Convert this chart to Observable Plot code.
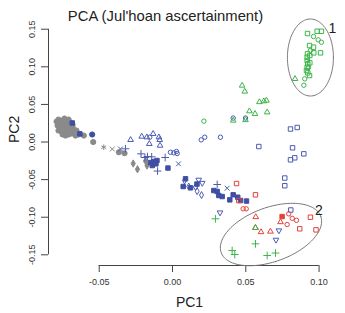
<!DOCTYPE html>
<html>
<head>
<meta charset="utf-8">
<script src="https://cdn.jsdelivr.net/npm/d3@7"></script>
<script src="https://cdn.jsdelivr.net/npm/@observablehq/plot@0.6"></script>
<style>
  html, body { margin: 0; padding: 0; background: #fff; }
  #chart svg { display: block; font-family: "Liberation Sans", Arial, sans-serif; }
</style>
</head>
<body>
<div id="chart"></div>
<script>
// PCA scores [PC1, PC2], one array per population / marker group
const greyDots = [[-0.0791,0.0273],[-0.0778,0.0299],[-0.0764,0.0246],[-0.0750,0.0286],[-0.0737,0.0313],[-0.0723,0.0273],[-0.0709,0.0299],[-0.0696,0.0259],[-0.0784,0.0219],[-0.0764,0.0193],[-0.0744,0.0219],[-0.0723,0.0206],[-0.0703,0.0193],[-0.0682,0.0206],[-0.0778,0.0153],[-0.0757,0.0140],[-0.0737,0.0166],[-0.0716,0.0140],[-0.0696,0.0153],[-0.0675,0.0166],[-0.0750,0.0100],[-0.0730,0.0086],[-0.0709,0.0100],[-0.0689,0.0113],[-0.0668,0.0126],[-0.0655,0.0153],[-0.0662,0.0086],[-0.0641,0.0100],[-0.0723,0.0246],[-0.0682,0.0233],[-0.0605,0.0086],[-0.0541,0.0000],[-0.0366,-0.0136],[-0.0327,-0.0149]];
const greyStars = [[-0.0469,-0.0069]];
const greyTimes = [[-0.0411,-0.0093]];
const greyDiamonds = [[-0.0268,-0.0286],[-0.0239,-0.0362],[-0.0184,-0.0253],[-0.0174,-0.0313]];

const blueFilledSq = [[-0.0684,0.0253],[-0.0632,0.0109],[-0.0150,-0.0273],[-0.0128,-0.0259],[-0.0106,-0.0246],[-0.0113,-0.0290],[-0.0031,-0.0346],[-0.0138,-0.0313],[0.0089,-0.0489],[0.0073,-0.0592],[0.0123,-0.0609],[0.0167,-0.0559],[0.0282,-0.0645],[0.0305,-0.0658],[0.0316,-0.0711],[0.0339,-0.0725],[0.0414,-0.0702],[0.0445,-0.0734],[0.0391,-0.0769],[0.0464,-0.0778],[0.0505,-0.0785]];
const blueFilledCircle = [[-0.0548,0.0100]];
const blueOpenSq = [[0.0805,0.0173],[0.0851,0.0193],[0.0589,-0.0060],[0.0819,-0.0077],[0.0896,-0.0157],[0.0834,-0.0210],[0.0805,-0.0237],[0.0766,-0.0479],[0.0766,-0.0581],[0.0807,-0.0904]];
const blueOpenCircle = [[0.0196,0.0029],[0.0220,0.0064],[0.0327,0.0064],[-0.0155,0.0064],[-0.0014,-0.0136],[0.0009,-0.0144],[0.0027,-0.0126],[0.0032,-0.0153],[0.0414,0.0319],[0.0498,0.0319]];
const blueOpenTri = [[-0.0286,0.0029],[-0.0210,0.0073],[-0.0175,0.0064],[-0.0132,0.0109],[-0.0093,0.0064],[-0.0087,0.0029],[-0.0158,-0.0024],[-0.0085,-0.0047]];
const blueOpenDiamond = [[0.0111,-0.0592],[0.0157,-0.0598],[0.0198,-0.0705],[0.0168,-0.0654],[0.0082,-0.0512]];
const blueDownTri = [[0.0203,-0.0545],[0.0179,-0.0503],[0.0324,-0.0938],[0.0726,-0.1177],[0.0706,-0.1301]];
const bluePlus = [[-0.0321,-0.0090],[-0.0215,-0.0157],[-0.0188,-0.0206],[-0.0171,-0.0193],[-0.0142,-0.0197],[-0.0050,-0.0206],[-0.0102,-0.0386],[0.0305,-0.0565]];
const blueTimes = [[-0.0355,-0.0093],[0.0041,-0.0290],[0.0373,-0.0614]];

const greenOpenSq = [[0.0921,0.1443],[0.0987,0.1473],[0.1016,0.1473],[0.0935,0.1283],[0.0962,0.1261],[0.1010,0.1186],[0.0921,0.1173],[0.0919,0.1128],[0.0937,0.1150],[0.0919,0.1084],[0.0923,0.1040],[0.0937,0.1053],[0.0919,0.0995],[0.0914,0.0951],[0.0923,0.0920],[0.0964,0.1186],[0.0935,0.0884]];
const greenOpenCircle = [[0.0962,0.1403],[0.0994,0.1359],[0.1016,0.1327],[0.0941,0.1217],[0.0928,0.0991],[0.0902,0.0840],[0.0896,0.0755],[0.0214,0.0277]];
const greenOpenTri = [[0.0836,0.0840],[0.0475,0.0751],[0.0493,0.0672],[0.0593,0.0532],[0.0623,0.0543],[0.0641,0.0552],[0.0525,0.0410],[0.0563,0.0375],[0.0646,0.0396],[0.0414,0.0286],[0.0498,0.0293],[0.0566,-0.1141]];
const greenPlus = [[0.0293,-0.1021],[0.0566,-0.1354],[0.0407,-0.1443],[0.0425,-0.1496],[0.0646,-0.1509],[0.0703,-0.1476]];

const redOpenSq = [[0.0437,-0.0552],[0.0566,-0.0702],[0.0452,-0.0778],[0.0868,-0.1154],[0.0941,-0.1000],[0.0979,-0.1168]];
const redFilledSq = [[0.0748,-0.0991]];
const redOpenCircle = [[0.0482,-0.0888],[0.0503,-0.0888],[0.0793,-0.0955],[0.0817,-0.1015],[0.0846,-0.1041],[0.0782,-0.1097]];
const redOpenTri = [[0.0568,-0.0997],[0.0604,-0.1197],[0.0668,-0.1190],[0.0737,-0.1064],[0.0566,-0.1141]];

// Cluster ellipses: centre and two semi-axis vectors, in PC units
const clusterEllipses = [
  {center: [0.0941, 0.1124], u: [0.0157, 0], v: [0, 0.0512]},
  {center: [0.0672, -0.1230], u: [0.03397, 0.02407], v: [0.0063, -0.0338]}
];
const clusterLabels = [
  {pc1: 0.1091, pc2: 0.1509, text: "1"},
  {pc1: 0.0998, pc2: -0.0911, text: "2"}
];

const xTicks = [-0.05, 0, 0.05, 0.10];
const yTicks = [-0.15, -0.10, -0.05, 0, 0.05, 0.10, 0.15];
const xDomain = [-0.0846, 0.1078];
const yDomain = [-0.1642, 0.1616];

const grey = "#8a8a8a", blue = "#4b5cb0", blueDark = "#3f4fa3", green = "#3db54a", red = "#e5413a";

// downward-pointing triangle (mirror of d3.symbolTriangle)
const triangleDown = {
  draw(ctx, size) {
    const y = -Math.sqrt(size / (Math.sqrt(3) * 3));
    ctx.moveTo(0, -y * 2);
    ctx.lineTo(-Math.sqrt(3) * y, y);
    ctx.lineTo(Math.sqrt(3) * y, y);
    ctx.closePath();
  }
};

function dots(data, symbol, r, color, filled) {
  return Plot.dot(data, {
    x: d => d[0], y: d => d[1], symbol, r,
    stroke: color, strokeWidth: 1,
    fill: filled ? color : "none"
  });
}

function ellipsePath(e) {
  return d3.range(0, 121).map(i => {
    const t = (i / 120) * 2 * Math.PI;
    return [e.center[0] + e.u[0] * Math.cos(t) + e.v[0] * Math.sin(t),
            e.center[1] + e.u[1] * Math.cos(t) + e.v[1] * Math.sin(t)];
  });
}

const fmt = d => d.toFixed(2);
const axisColor = "#444";

const chart = Plot.plot({
  width: 345,
  height: 313,
  marginLeft: 48,
  marginRight: 15,
  marginTop: 20,
  marginBottom: 48,
  style: {fontFamily: "'Liberation Sans', Arial, sans-serif", background: "#fff", color: "#222"},
  x: {domain: xDomain, axis: null, label: null},
  y: {domain: yDomain, axis: null, label: null},
  marks: [
    // axes
    Plot.ruleY([yDomain[0]], {x1: xTicks[0], x2: xTicks[xTicks.length - 1], stroke: axisColor}),
    Plot.axisX(xTicks, {anchor: "bottom", label: null, tickSize: 7, tickPadding: 6, tickFormat: fmt, fontSize: 9, stroke: axisColor, fill: "#333"}),
    Plot.ruleX([xDomain[0]], {y1: yTicks[0], y2: yTicks[yTicks.length - 1], stroke: axisColor}),
    Plot.axisY(yTicks, {anchor: "left", label: null, tickSize: 7, tickFormat: () => "", stroke: axisColor}),
    Plot.text(yTicks, {x: xDomain[0], y: d => d, text: fmt, rotate: -90, dx: -16, fontSize: 9, fill: "#333"}),
    Plot.text(["PC1"], {frameAnchor: "bottom", dy: 41, fontSize: 14, fill: "#222"}),
    Plot.text(["PC2"], {frameAnchor: "left", dx: -34, rotate: -90, fontSize: 14, fill: "#222"}),
    Plot.text(["PCA (Jul'hoan ascertainment)"], {frameAnchor: "top", dx: -24, dy: -10, fontSize: 14.8, fill: "#222"}),

    // points
    dots(greyDots, "circle", 2.6, grey, true),
    dots(greyStars, "asterisk", 2.6, grey, false),
    dots(greyTimes, "times", 2.3, grey, false),
    dots(greyDiamonds, "diamond", 2.2, grey, true),
    dots(blueOpenTri, "triangle", 2.1, blue, false),
    dots(blueOpenCircle, "circle", 2.2, blue, false),
    dots(blueOpenSq, "square", 2.5, blue, false),
    dots(blueOpenDiamond, "diamond", 2.1, blue, false),
    dots(blueDownTri, triangleDown, 2.1, blue, false),
    dots(bluePlus, "plus", 2.6, blue, false),
    dots(blueTimes, "times", 2.3, blue, false),
    dots(blueFilledSq, "square", 2.5, blueDark, true),
    dots(blueFilledCircle, "circle", 2.6, blueDark, true),
    dots(redOpenSq, "square", 2.5, red, false),
    dots(redFilledSq, "square", 2.5, red, true),
    dots(redOpenCircle, "circle", 2.2, red, false),
    dots(redOpenTri, "triangle", 2.1, red, false),
    dots(greenOpenSq, "square", 2.5, green, false),
    dots(greenOpenCircle, "circle", 2.2, green, false),
    dots(greenOpenTri, "triangle", 2.1, green, false),
    dots(greenPlus, "plus", 2.6, green, false),

    // cluster ellipses and their numbers
    ...clusterEllipses.map(e => Plot.line(ellipsePath(e), {x: d => d[0], y: d => d[1], stroke: "#777", strokeWidth: 1, clip: false})),
    Plot.text(clusterLabels, {x: "pc1", y: "pc2", text: "text", fontSize: 14, fill: "#222"})
  ]
});

document.getElementById("chart").appendChild(chart);
</script>
</body>
</html>
